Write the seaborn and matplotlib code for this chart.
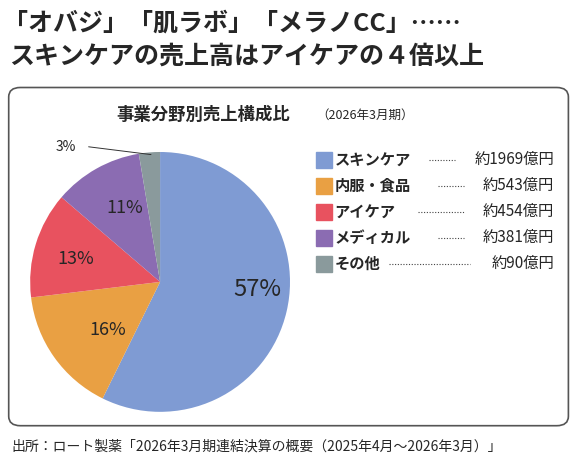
import matplotlib.pyplot as plt
import seaborn as sns
from matplotlib.patches import FancyBboxPatch, Rectangle

sns.set_style('white')
plt.rcParams['font.family'] = ['Noto Sans CJK JP', 'DejaVu Sans']

# data
categories = ['スキンケア', '内服・食品', 'アイケア', 'メディカル', 'その他']
sales = [1969, 543, 454, 381, 90]
sales_labels = ['約1969億円', '約543億円', '約454億円', '約381億円', '約90億円']
pct_labels = ['57%', '16%', '13%', '11%', '3%']
colors = ['#7f9bd3', '#e9a043', '#e8525f', '#8b6cb2', '#8a9a9c']

fig = plt.figure(figsize=(5.8, 4.73), dpi=100)
fig.patch.set_facecolor('white')

fig.text(0.005, 0.975, '「オバジ」「肌ラボ」「メラノCC」……', fontsize=18, fontweight='bold', va='top')
fig.text(0.015, 0.905, 'スキンケアの売上高はアイケアの４倍以上', fontsize=18, fontweight='bold', va='top')

# frame
fig.patches.append(FancyBboxPatch((0.015, 0.1), 0.965, 0.715, boxstyle='round,pad=0,rounding_size=0.02',
                                  transform=fig.transFigure, fill=False, edgecolor='#555555', lw=1.2))
fig.text(0.2, 0.775, '事業分野別売上構成比', fontsize=12.5, fontweight='bold', va='top')
fig.text(0.545, 0.77, '（2026年3月期）', fontsize=9, va='top')

ax = fig.add_axes([0.052, 0.129, 0.448, 0.55])
wedges, _ = ax.pie(sales, colors=colors, startangle=90, counterclock=False,
                   wedgeprops=dict(edgecolor='none'))
ax.set_xlim(-1, 1)
ax.set_ylim(-1, 1)
ax.set_aspect('equal')
pos = [(0.75, -0.06, 17), (-0.4, -0.37, 13), (-0.65, 0.18, 13), (-0.27, 0.57, 13)]
for (x, y, s), t in zip(pos, pct_labels[:4]):
    ax.text(x, y, t, fontsize=s, ha='center', va='center')
ax.text(-0.65, 1.04, pct_labels[4], fontsize=10, ha='right', va='center')
ax.plot([-0.55, -0.07], [1.04, 0.98], color='#333333', lw=0.7, clip_on=False)

# legend
y0 = 0.662
for i, (c, lab, v) in enumerate(zip(colors, categories, sales_labels)):
    y = y0 - i * 0.055
    fig.patches.append(Rectangle((0.545, y - 0.017), 0.028, 0.034, transform=fig.transFigure,
                                 color=c))
    fig.text(0.577, y, lab, fontsize=11, fontweight='bold', va='center')
    fig.text(0.955, y, v, fontsize=11, va='center', ha='right')
    xs = [0.74, 0.755, 0.72, 0.755, 0.67][i]
    xe = [0.785, 0.8, 0.8, 0.8, 0.81][i]
    fig.add_artist(plt.Line2D([xs, xe], [y, y], transform=fig.transFigure, color='#444444',
                              lw=0.8, ls=(0, (1, 1.5))))

fig.text(0.02, 0.055, '出所：ロート製薬「2026年3月期連結決算の概要（2025年4月～2026年3月）」',
         fontsize=10, va='center')

fig.savefig('out.png', dpi=100)
